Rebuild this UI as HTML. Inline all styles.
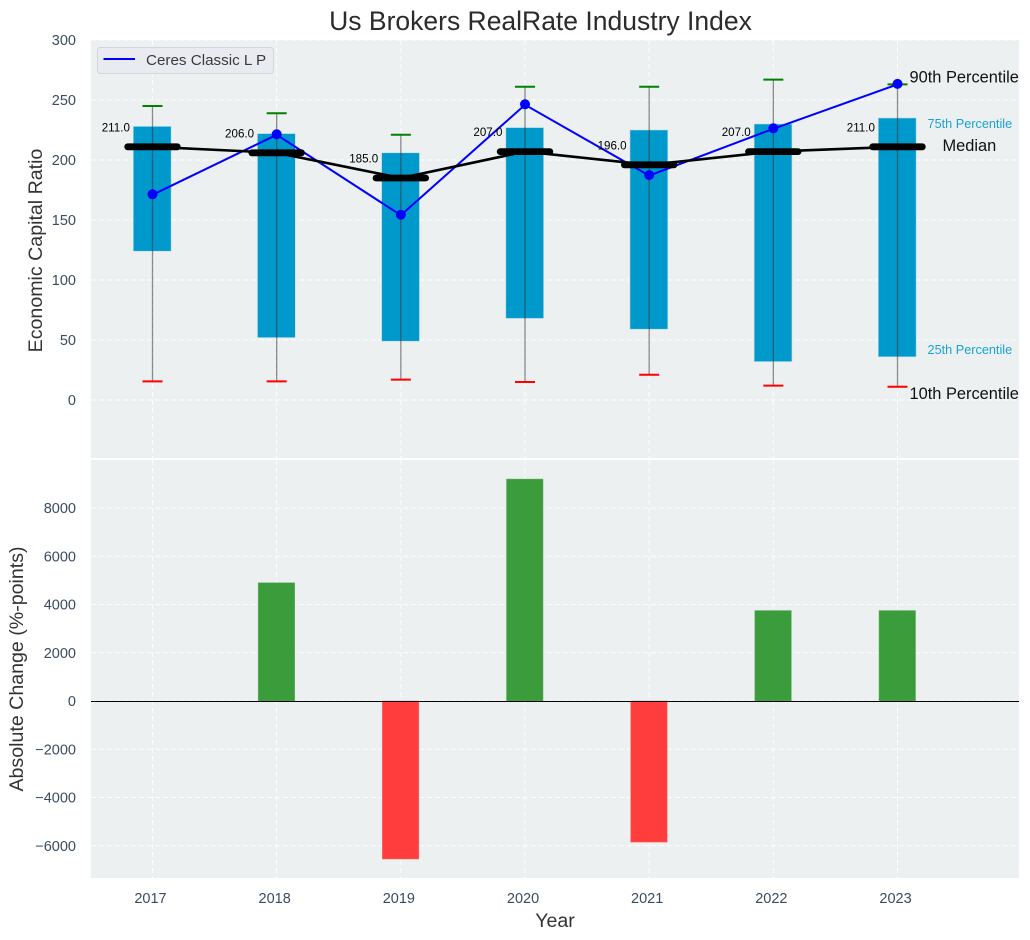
<!DOCTYPE html>
<html lang="en">
<head>
<meta charset="utf-8">
<title>Us Brokers RealRate Industry Index</title>
<style>
html,body{margin:0;padding:0;background:#fff;width:1030px;height:940px;overflow:hidden}
svg{display:block;font-family:"Liberation Sans",Arial,sans-serif}
.tick{font-size:14.5px;fill:#3b4b5e}
.axis-title{font-size:19.6px;fill:#333}
.note{font-size:16.4px;fill:#111}
.note-small{font-size:12.7px;fill:#19a3d1}
</style>
</head>
<body>
<svg id="chart" xmlns="http://www.w3.org/2000/svg" width="1030" height="940" viewBox="0 0 1030 940">
  <rect x="91" y="40" width="928" height="418" fill="#ecf0f1"/>
  <rect x="91" y="460" width="928" height="418" fill="#ecf0f1"/>
  <g id="grid"></g>
  <g id="top-marks"></g>
  <g id="bottom-marks"></g>
  <g id="ticks"></g>
  <text x="540.5" y="30" text-anchor="middle" font-size="26.5" fill="#2b2b2b">Us Brokers RealRate Industry Index</text>
  <text transform="translate(42,250.5) rotate(-90)" text-anchor="middle" class="axis-title">Economic Capital Ratio</text>
  <text transform="translate(23,669) rotate(-90)" text-anchor="middle" class="axis-title">Absolute Change (%-points)</text>
  <text x="555" y="927" text-anchor="middle" class="axis-title">Year</text>
  <text id="note-p90" class="note">90th Percentile</text>
  <text id="note-q3" class="note-small">75th Percentile</text>
  <text id="note-median" class="note">Median</text>
  <text id="note-q1" class="note-small">25th Percentile</text>
  <text id="note-p10" class="note">10th Percentile</text>
  <g>
    <rect x="97.5" y="47.5" width="176" height="26" rx="3" fill="#e9ebf0" stroke="#d2d5d9"/>
    <line x1="103.5" y1="59" x2="135" y2="59" stroke="#0000ff" stroke-width="2"/>
    <text x="146" y="65" font-size="15.2" fill="#3a3a3a">Ceres Classic L P</text>
  </g>
</svg>
<script>
const years = ['2017', '2018', '2019', '2020', '2021', '2022', '2023'];
const p90 = [245, 239, 221, 261, 261, 267, 263];
const q3 = [228, 222, 206, 227, 225, 230, 235];
const median = [211, 206, 185, 207, 196, 207, 211];
const q1 = [124, 52, 49, 68, 59, 32, 36];
const p10 = [15.5, 15.5, 17, 15, 21, 12, 11];
const company = [171, 221, 154, 246, 187, 226, 263];
const change = [0, 4900, -6550, 9200, -5850, 3750, 3750];
const topTicks = [0, 50, 100, 150, 200, 250, 300];
const bottomTicks = [-6000, -4000, -2000, 0, 2000, 4000, 6000, 8000];

const NS = 'http://www.w3.org/2000/svg';
const xAt = function (i) { return 152.5 + 124.17 * i; };
const yTop = function (v) { return 400 - 1.2 * v; };
const yBottom = function (v) { return 701 - 0.024125 * v; };
const topEl = document.getElementById('top-marks');
const bottomEl = document.getElementById('bottom-marks');
const gridEl = document.getElementById('grid');
const ticksEl = document.getElementById('ticks');

function make(tag, parent, attrs, text) {
  const el = document.createElementNS(NS, tag);
  for (const k in attrs) el.setAttribute(k, attrs[k]);
  if (text !== undefined) el.textContent = text;
  parent.appendChild(el);
  return el;
}
const gridStyle = { stroke: '#ffffff', 'stroke-width': 1, 'stroke-dasharray': '5 3', opacity: 0.9 };

/* grid and ticks */
years.forEach(function (label, i) {
  const x = xAt(i);
  const g1 = make('line', gridEl, Object.assign({ x1: x, x2: x, y1: 40, y2: 458 }, gridStyle));
  
  
  const g2 = make('line', gridEl, Object.assign({ x1: x, x2: x, y1: 460, y2: 878 }, gridStyle));
  
  
  const t = make('text', ticksEl, { x: x - 2, y: 903, 'text-anchor': 'middle', class: 'tick' }, label);
  
  
});
topTicks.forEach(function (v) {
  const y = yTop(v);
  const g = make('line', gridEl, Object.assign({ x1: 91, x2: 1019, y1: y, y2: y }, gridStyle));
  
  
  const t = make('text', ticksEl, { x: 76, y: y + 5, 'text-anchor': 'end', class: 'tick' }, String(v));
  
  
});
bottomTicks.forEach(function (v) {
  const y = yBottom(v);
  const g = make('line', gridEl, Object.assign({ x1: 91, x2: 1019, y1: y, y2: y }, gridStyle));
  
  
  const t = make('text', ticksEl, { x: 76, y: y + 5, 'text-anchor': 'end', class: 'tick' }, String(v).replace('-', '\u2212'));
  
  
});

/* boxes */
years.forEach(function (label, i) {
  const box = make('rect', topEl, { x: xAt(i) - 19.2, width: 37.8, y: yTop(q3[i]), height: yTop(q1[i]) - yTop(q3[i]), fill: '#0099cc', stroke: '#b5dcea', 'stroke-width': 0.6 });
  
  
});

/* whiskers */
years.forEach(function (label, i) {
  const x = xAt(i);
  const w = make('line', topEl, { x1: x, x2: x, y1: yTop(p90[i]), y2: yTop(p10[i]), stroke: '#333333', 'stroke-opacity': 0.55, 'stroke-width': 1.3 });
  
  
  const hi = make('line', topEl, { x1: x - 10, x2: x + 10, y1: yTop(p90[i]), y2: yTop(p90[i]), stroke: '#008000', 'stroke-width': 2 });
  
  
  const lo = make('line', topEl, { x1: x - 10, x2: x + 10, y1: yTop(p10[i]), y2: yTop(p10[i]), stroke: '#ff0000', 'stroke-width': 2 });
  
  
});

/* company series */
const companyLine = make('polyline', topEl, { points: company.map(function (v, i) { return xAt(i) + ',' + yTop(v); }).join(' '), fill: 'none', stroke: '#0000ff', 'stroke-width': 2 });


company.forEach(function (v, i) {
  const c = make('circle', topEl, { cx: xAt(i), cy: yTop(v) - 0.5, r: 5, fill: '#0000ff' });
  
  
});

/* median */
const medianLine = make('polyline', topEl, { points: median.map(function (v, i) { return xAt(i) + ',' + yTop(v); }).join(' '), fill: 'none', stroke: '#000000', 'stroke-width': 2.6 });


median.forEach(function (v, i) {
  const x = xAt(i);
  const m = make('line', topEl, { x1: x - 24.8, x2: x + 24.8, y1: yTop(v), y2: yTop(v), stroke: '#000000', 'stroke-width': 6.8, 'stroke-linecap': 'round' });
  
  
  const t = make('text', topEl, { x: x - 22.6, y: yTop(v) - 15.5, 'text-anchor': 'end', 'font-size': 11.6, fill: '#000' }, v.toFixed(1));
  
  
});

/* annotations tied to the last year */
const last = years.length - 1;
const lastX = xAt(last);
function place(id, x, y) {
  const el = document.getElementById(id);
  el.setAttribute('x', x);
  el.setAttribute('y', y);
}
place('note-p90', lastX + 12, yTop(p90[last]) - 2);
place('note-q3', lastX + 30, yTop(q3[last]) + 10);
place('note-median', lastX + 45, yTop(median[last]) + 4);
place('note-q1', lastX + 30, yTop(q1[last]) - 3);
place('note-p10', lastX + 12, yTop(p10[last]) + 12);

/* change bars */
change.forEach(function (v, i) {
  if (v === 0) return;
  const a = yBottom(Math.max(v, 0));
  const b = yBottom(Math.min(v, 0));
  const bar = make('rect', bottomEl, { x: xAt(i) - 18.5, width: 36.5, y: a, height: b - a, fill: v > 0 ? '#3b9c3c' : '#ff3d3d', stroke: v > 0 ? '#62ae63' : '#ff6d6d', 'stroke-width': 0.5 });
  
  
});
const zero = make('line', bottomEl, { x1: 91, x2: 1019, y1: yBottom(0) + 0.5, y2: yBottom(0) + 0.5, stroke: '#000', 'stroke-width': 1.1 });


</script>
</body>
</html>
